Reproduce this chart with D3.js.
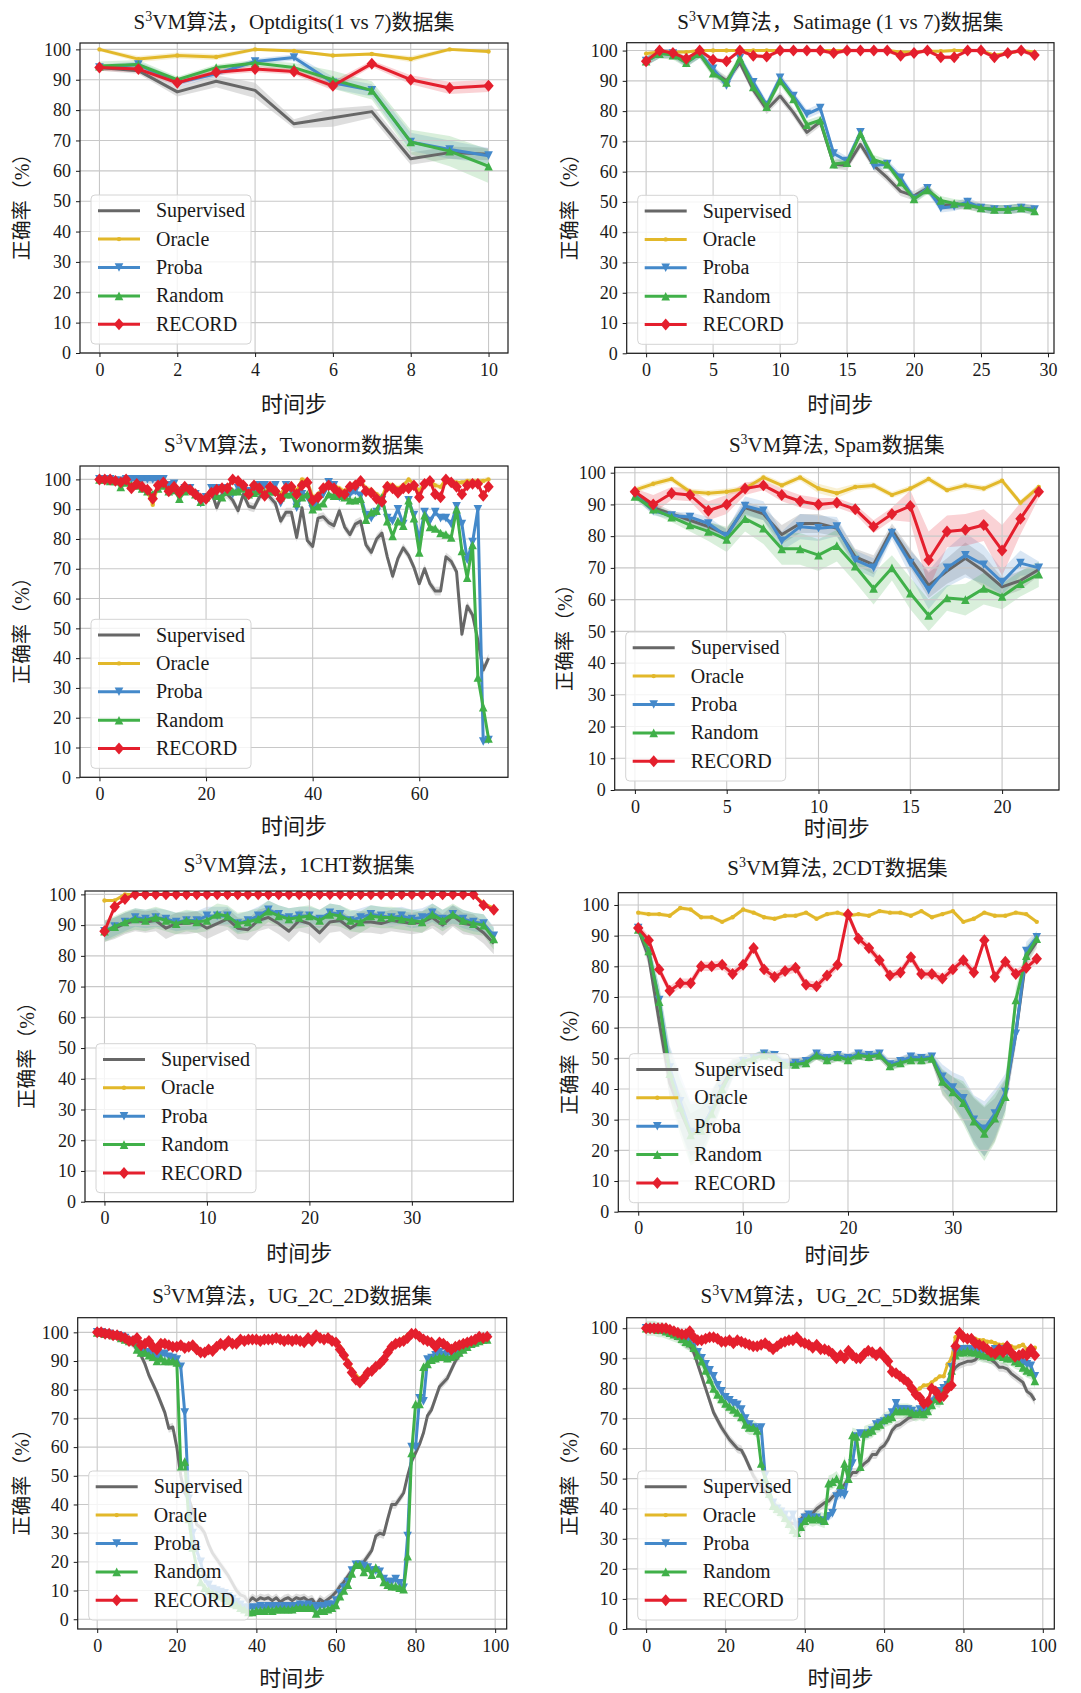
<!DOCTYPE html>
<html>
<head>
<meta charset="utf-8">
<title>S3VM accuracy</title>
<script src="https://cdn.jsdelivr.net/npm/d3@7"></script>
<style>
  body { margin: 0; background: #fff; }
  svg text { font-family: "Liberation Serif", "Times New Roman", "Noto Sans CJK SC", serif; fill: #1a1a1a; }
</style>
</head>
<body>
<script>
// ---- series / style ----
var seriesNames = ["Supervised", "Oracle", "Proba", "Random", "RECORD"]
var colors = ["#676767", "#e2b82a", "#4489ca", "#40b049", "#e41f2d"]
var markers = ["none", "dot", "down", "up", "diamond"]
var yTicks = [0, 10, 20, 30, 40, 50, 60, 70, 80, 90, 100]
var serif = "'Liberation Serif', 'Times New Roman', 'Noto Sans CJK SC', serif"

// ---- Optdigits (1 vs 7) ----
var optSup = [94, 93, 86, 89.5, 86.5, 75.5, 77.5, 79.5, 64, 66, 65.5]
var optOra = [100, 96.8, 98, 97.5, 100, 99.5, 98, 98.5, 96.8, 100, 99.3]
var optPro = [94, 95, 89, 92, 96, 97.3, 89, 86.5, 69.5, 67, 65]
var optRan = [94.5, 95, 90, 94, 95.5, 94, 90, 86.5, 69.5, 66.5, 61.5]
var optRec = [94, 93.5, 89, 92.5, 93.5, 92.7, 88, 95.3, 90, 87.3, 88]
var optSupBand = [1, 1, 1.5, 2, 2.5, 1.5, 3, 2, 2, 2, 2]
var optOraBand = [0.5, 1, 1, 1, 0.5, 0.5, 0.5, 0.5, 1, 0.5, 0.5]
var optProBand = [1, 1, 1.5, 1, 1, 1, 2, 2, 3, 3, 2.5]
var optRanBand = [1.5, 1.5, 1, 1, 1, 1.5, 3, 3, 4, 5, 5.5]
var optRecBand = [1, 1, 1, 1, 1, 1, 1.5, 1, 1.5, 2, 2]

// ---- Satimage (1 vs 7) ----
var satSup = [96.5, 99, 99, 96.5, 99, 93, 90, 96, 87, 80.5, 85, 79.5, 73, 76.5, 62.5, 62, 69, 62, 58, 53.5, 52, 54.5, 49, 49, 49, 48, 47.5, 47.5, 48, 47.5]
var satOra = [99, 99.5, 99.5, 99.5, 100, 100, 100, 100, 100, 100, 100, 100, 100, 100, 100, 100, 100, 100, 100, 99.5, 99.5, 99.8, 99.8, 100, 100, 100, 98.5, 99, 100, 99.5]
var satPro = [96.5, 99, 99, 96, 99, 94, 88.5, 97.5, 89.5, 82, 91, 85, 79, 81, 66, 63.5, 73, 62, 62.5, 58, 51, 54.5, 48, 48.5, 50, 48, 47.5, 47.5, 48, 47.5]
var satRan = [96.5, 99, 98.5, 96, 99, 92.5, 89.5, 97.5, 88, 81.5, 90, 84, 75.5, 77, 62.5, 63, 72.5, 64, 62.5, 56.5, 51, 54, 50.5, 49.5, 49, 48, 47.5, 47.5, 48, 47]
var satRec = [96.5, 100, 99.2, 97.3, 100, 97, 96.5, 100, 98.3, 98, 100, 100, 100, 100, 99.2, 100, 100, 100, 100, 98.3, 99.2, 100, 97.8, 97.8, 100, 100, 97.8, 99.2, 100, 98.5]

// ---- Twonorm ----
var twoSup = [100, 100, 100, 99.5, 99.5, 100, 98, 99, 100, 100,
  100, 100, 98, 96, 96.5, 96, 97, 96.5, 95.5, 94,
  92.5, 96, 90.5, 95, 95, 93, 89.5, 95, 91, 90.5,
  94, 96, 94, 92, 86, 89, 89, 80.5, 90.5, 79.5,
  77.5, 87, 87.5, 85.5, 84.5, 89.5, 84, 81.5, 85, 86,
  78, 75.5, 80, 82, 74, 67.5, 73.5, 77, 74.5, 70.5,
  65, 70, 65, 62.5, 62.5, 74, 72.5, 69, 48, 57.5,
  54.5, 46, 36, 40]
var twoOra = [100, 100, 100, 99.5, 99.5, 100, 98, 98, 97, 96,
  91.5, 98, 99, 95.5, 97.5, 96, 97, 96.5, 95.5, 93.5,
  93, 96, 97, 97, 97.5, 99.5, 99.5, 98, 96, 98.5,
  97.5, 95.5, 98, 97, 95, 98, 98, 96, 100, 99.5,
  94, 95, 97.5, 99, 98, 97, 96, 98, 98.5, 99.5,
  97, 96.5, 95, 94, 98.5, 98, 97, 98, 100, 98.5,
  96, 99, 99.5, 98, 97.5, 100, 99.5, 99, 99, 99.5,
  99.5, 99.5, 99.5, 100]
var twoPro = [100, 100, 100, 99.5, 99.5, 100, 100, 100, 100, 100,
  100, 100, 100, 98, 98.5, 96, 97, 97, 95, 92,
  94, 97, 97, 96, 97, 95, 97, 97, 96, 96,
  98, 98, 97, 98, 92, 98, 96, 90.5, 95, 94,
  90, 93, 95, 99, 98, 94, 94, 95, 96, 94.5,
  88, 87, 89, 93, 87, 86, 90, 85, 93, 88,
  80, 89, 86, 89, 87, 87, 85, 91, 85, 73,
  79, 90, 12, 12.5]
var twoRan = [100, 100, 99.5, 99.5, 97.5, 99, 98, 98, 97, 96,
  95, 97, 98, 96, 96.5, 93.5, 96, 96.5, 95, 92.5,
  94, 96, 94.5, 94, 96, 96, 96, 97, 95, 95.5,
  96, 95.5, 96, 96, 94, 95, 95, 92, 94, 95,
  90, 91, 92, 95, 94.5, 94.5, 94, 93, 93, 93.5,
  86.5, 89, 89.5, 94, 86, 81, 86, 84.5, 93, 87,
  75.5, 88, 84, 83.5, 82, 81.5, 80.5, 90, 76, 67,
  78, 33.5, 23.5, 13]
var twoRec = [100, 100, 100, 99.5, 99, 100, 97, 98.5, 97.5, 96.5,
  93.5, 98, 99, 96, 97.5, 95.5, 97.5, 96.5, 95, 93.5,
  93.5, 95.5, 96.5, 97, 97, 100, 99.5, 98, 95, 98,
  97, 94.5, 97.5, 96, 93.5, 97, 97.5, 95, 98, 99,
  93, 94, 97, 98, 97, 95.5, 95, 97.5, 98, 99.5,
  96, 95.5, 93.5, 92.5, 97.5, 97, 95.5, 97, 97, 98,
  94, 98.5, 99.5, 95, 94, 100, 99, 97.5, 95, 98,
  98.5, 98.5, 94.5, 97.5]

// ---- Spam ----
var spamSup = [93, 89, 87, 85, 83, 80.5, 89, 87, 80.5, 84, 84, 82.5, 73.5, 71, 82, 73, 64.5, 69, 73, 69, 64, 66, 69.5]
var spamOra = [94.5, 96.5, 98, 94, 93.5, 94, 95, 98.5, 96, 98.5, 95, 93.5, 95.5, 96, 93, 95, 98, 94.5, 96, 95, 97.5, 90.5, 95.5]
var spamPro = [93, 88, 86.5, 86, 84, 80, 89.5, 88, 78.5, 83, 82.5, 83, 72.5, 70, 81, 71.5, 63, 70, 74, 71, 65.5, 71.5, 70]
var spamRan = [92.5, 88.5, 86, 83.5, 81.5, 79, 85.5, 82.5, 76, 76, 74, 77, 70.5, 63.5, 70, 62, 55, 60.5, 60, 63.5, 61, 65, 68]
var spamRec = [94, 90, 93.5, 93, 88, 90, 95, 96, 93, 91, 90, 90.5, 88.5, 83, 87, 89.5, 72.5, 81.5, 82, 83.5, 75.5, 85.5, 94]
var spamSupBand = [1, 1.5, 1, 1.5, 1.5, 2, 2, 2, 3, 3, 3, 2.5, 2.5, 3, 2, 3, 4, 4, 5, 5, 3, 3, 2]
var spamOraBand = [1, 1, 1, 1, 1, 1, 1, 1, 1, 1, 1.5, 1.5, 1, 1, 1, 1, 1, 1, 1, 1, 1, 1, 1]
var spamProBand = [1, 1.5, 1, 1.5, 2, 2, 3, 3, 3, 4, 4, 3, 3, 3, 2, 4, 6, 6, 7, 6, 4, 4, 2]
var spamRanBand = [1, 1.5, 1.5, 2, 3, 4, 4, 5, 5, 5, 5, 5, 5, 5, 4, 5, 5, 4, 5, 5, 4, 4, 4]
var spamRecBand = [1, 3, 2, 2, 3, 3, 2, 1.5, 2, 2, 2, 1.5, 1.5, 2, 2, 5, 9, 5, 5, 5, 8, 5, 2]

// ---- 1CHT ----
var chtSup = [88, 89, 90.5, 91.5, 91, 91.5, 89, 90.5, 90.5, 91,
  89, 90.5, 92, 89, 88.5, 91.5, 92.5, 90.5, 88, 91.5,
  90.5, 87.5, 91, 91.5, 89, 91, 91, 90.5, 91.5, 91,
  90.5, 91, 92.5, 90, 93, 90.5, 90, 87.5, 84]
var chtOra = [98, 98, 100, 100, 100, 100, 100, 100, 100, 100,
  100, 100, 100, 100, 100, 100, 100, 100, 100, 100,
  100, 100, 100, 100, 100, 100, 100, 100, 100, 100,
  100, 100, 100, 100, 100, 100, 100, 97, 95.5]
var chtPro = [88, 89.5, 91, 92.5, 92, 92.5, 92, 91, 91.5, 91.5,
  93, 93, 93, 90.5, 91.5, 93, 95, 93.5, 92.5, 93,
  93, 92, 94, 93.5, 91.5, 92.5, 93.5, 93, 92.5, 93,
  92, 92.5, 94, 92, 93.5, 92, 91, 90.5, 86.5]
var chtRan = [88, 89.5, 91, 92, 91.5, 92.5, 91.5, 90.5, 91.5, 91,
  91.5, 93.5, 93, 90.5, 91, 92, 94.5, 93, 92, 92.5,
  93, 91.5, 93.5, 93, 91.5, 91, 93, 92.5, 92.5, 92,
  91.5, 91, 93.5, 91.5, 93.5, 91.5, 90.5, 90, 85.5]
var chtRec = [88, 96, 98.5, 100, 100, 100, 100, 100, 100, 100,
  100, 100, 100, 100, 100, 100, 100, 100, 100, 100,
  100, 100, 100, 100, 100, 100, 100, 100, 100, 100,
  100, 100, 100, 100, 100, 100, 100, 96.5, 95]

// ---- 2CDT ----
var cdtSup = [92, 83, 62, 42, 33, 25, 27, 33, 41, 47,
  49, 50, 51, 50, 48, 48.5, 49, 51, 49.5, 50.5,
  50, 51, 50.5, 51, 47.5, 49, 50, 49.5, 50, 42,
  39, 35.5, 30, 26, 30, 38, 58, 83, 88]
var cdtOra = [97.5, 97, 97, 96.5, 99, 98.5, 96, 96, 94.5, 96,
  98.5, 97.5, 96, 95.5, 96.5, 96.5, 97.5, 95.5, 97, 97.5,
  96.5, 97, 96.5, 98, 97.5, 97.5, 96.5, 98, 96, 97,
  98, 94.5, 95.5, 97.5, 96.5, 96.5, 97.5, 97, 94.5]
var cdtPro = [92.5, 85, 69, 47, 36, 26, 27, 33, 40, 46,
  49, 50, 51.5, 51, 48.5, 48.5, 49, 51.5, 50, 51,
  50, 51.5, 51, 51.5, 48, 49, 50.5, 50, 50.5, 44,
  40.5, 37, 30, 27, 32, 39, 58, 85, 89.5]
var cdtRan = [92, 85, 68.5, 45, 34, 25, 26.5, 32, 40, 46.5,
  49, 50, 51, 50.5, 48, 48, 48.5, 51, 49.5, 50.5,
  49.5, 51, 50.5, 51, 47.5, 48.5, 49.5, 49.5, 50, 42.5,
  39, 35.5, 29.5, 25.5, 30.5, 37.5, 69, 83.5, 89]
var cdtRec = [92.5, 88.5, 79, 72, 74.5, 74.5, 80, 80, 80.5, 77.5,
  80.5, 86, 79, 76.5, 78.5, 79.5, 74, 73.5, 77, 80.5,
  97, 89, 86, 82, 77, 78, 83, 77.5, 77.5, 76,
  79, 82, 78, 88.5, 76.5, 81.5, 77.5, 79.5, 82.5]
var cdtSupBand = [1, 3, 4, 5, 6, 7, 7, 6, 5, 3, 2, 1.5, 1.5, 1.5, 1.5, 1.5, 1.5, 1.5, 1.5, 1.5,
  1.5, 1.5, 1.5, 1.5, 1.5, 1.5, 1.5, 1.5, 1.5, 4, 5, 6, 7, 8, 7, 5, 4, 3, 2]
var cdtProBand = [1, 3, 5, 7, 9, 10, 9, 7, 5, 3, 2, 1.5, 1.5, 1.5, 1.5, 1.5, 1.5, 1.5, 1.5, 1.5,
  1.5, 1.5, 1.5, 1.5, 1.5, 1.5, 1.5, 1.5, 1.5, 4, 5, 7, 8, 9, 8, 6, 4, 3, 2]
var cdtRanBand = [1, 3, 5, 8, 9, 10, 9, 7, 5, 3, 2, 1.5, 1.5, 1.5, 1.5, 1.5, 1.5, 1.5, 1.5, 1.5,
  1.5, 1.5, 1.5, 1.5, 1.5, 1.5, 1.5, 1.5, 1.5, 4, 5, 7, 8, 9, 8, 6, 4, 3, 2]

// ---- UG_2C_2D ----
var ug2Sup = [100, 100, 99.5, 99.5, 99, 99, 98.5, 98, 97, 96,
  94, 92, 89, 85, 82, 79, 75.5, 72, 66.5, 67,
  60, 50, 44, 42, 38, 33, 32, 30, 26, 23,
  21, 19, 17, 15, 12.5, 10, 8.5, 8, 6, 7.5,
  6.5, 7.5, 7, 7.5, 6.5, 7.5, 6, 7, 7.5, 6.5,
  7.5, 7, 7.5, 6.5, 7, 5, 7, 6, 7, 8,
  9.5, 11.5, 13, 15, 17, 19, 19, 20, 22, 24,
  29, 30, 29.5, 35, 40, 40, 42, 44, 50, 55,
  58, 61, 65, 71, 73, 77, 81, 82.5, 84, 87,
  90, 92, 94, 95, 96, 96.5, 97, 97.5, 98]
var ug2Ora = [100, 100, 99.5, 99.5, 99, 99, 98.5, 98, 97, 97,
  97.5, 96, 96, 97, 95.5, 95, 97, 96.5, 96, 95.5,
  95, 95.5, 94.5, 95, 95.5, 94, 93.5, 93.5, 94, 94,
  95, 96, 96, 97, 96.5, 96.5, 97.5, 97.5, 97.5, 98,
  97.5, 97.5, 97.5, 98, 97.5, 98, 97.5, 97.5, 97.5, 97.5,
  97.5, 97.5, 97, 98, 97.5, 99, 98, 98, 98, 97.5,
  97, 95, 93, 90, 87, 85, 84, 85, 86.5, 87,
  88.5, 89.5, 91, 93, 95, 96.5, 97, 98, 99, 100,
  100, 99, 98, 97.5, 97, 96, 96.5, 96, 95.5, 94.5,
  95, 95.5, 96, 96.5, 97, 97.5, 98, 98, 98.5]
var ug2Pro = [100, 100, 99.5, 99.5, 99, 99, 98.5, 98, 97, 97,
  95, 94, 93, 93, 92, 91, 92, 92.5, 91.5, 91,
  90.5, 88, 72, 42, 30, 24, 20, 14, 12, 10.5,
  10, 9.5, 9, 8, 7, 6, 5, 4, 4, 4,
  4, 4.5, 4, 4.5, 4.5, 4.5, 4, 4.5, 4.5, 4.5,
  4.5, 5, 4.5, 5, 4.5, 4, 4.5, 4.5, 5, 5,
  6.5, 9, 11, 13, 17, 19, 19, 18.5, 18, 17,
  17, 16.5, 14, 13, 13, 14, 12.5, 11, 29, 60,
  60, 77, 76, 90.5, 91, 92, 93, 92, 92.5, 92.5,
  93, 93, 94, 95, 96, 96.5, 97, 97.5, 98]
var ug2Ran = [100, 100, 99.5, 99.5, 99, 99, 98, 97.5, 97, 97,
  94, 93, 93, 92, 91.5, 90, 91, 90, 90, 90,
  89.5, 53, 55, 35, 25, 18, 13, 11, 10, 9,
  8.5, 8, 7.5, 6.5, 5.5, 5, 4, 3.5, 2.5, 2.5,
  3, 3, 3, 3.5, 3, 3.5, 3.5, 3.5, 3.5, 3.5,
  4, 4, 4, 4, 4, 2, 3, 3, 3.5, 4,
  5, 8, 10, 12, 16, 19, 19, 16.5, 18, 15.5,
  18, 16, 13, 12, 11.5, 11.5, 11, 10.5, 22, 58,
  75, 75, 88, 89, 90.5, 91, 91.5, 91.5, 91, 91.5,
  92, 93, 94, 95, 96, 96.5, 97, 97.5, 97.5]
var ug2Rec = [100, 100, 99.5, 99.5, 99, 99, 98.5, 98, 97, 97,
  98, 95.5, 96, 97, 95, 94, 96, 96, 95.5, 95,
  95, 95.5, 94.5, 95, 95.5, 94, 93, 93, 94, 93.5,
  95, 96, 95.5, 97, 96, 96, 97.5, 97, 97.5, 97.5,
  97.5, 97, 97.5, 97.5, 97.5, 98, 97.5, 97, 97.5, 97,
  97.5, 97, 96.5, 98, 97, 99, 98, 97.5, 98, 97,
  96.5, 94, 92, 89, 86, 83.5, 82.5, 84, 86, 86.5,
  88, 89, 90.5, 93, 95, 96, 96.5, 97, 98, 99.5,
  99.5, 98.5, 97.5, 97, 96.5, 95, 96.5, 96, 95, 94,
  95, 95.5, 96, 96.5, 97, 97.5, 98.5, 98, 98.5]

// ---- UG_2C_5D ----
var ug5Sup = [100, 100, 100, 99.5, 99.5, 99, 98.5, 98, 97, 96,
  95, 94, 92, 88, 84, 80, 76, 72, 69.5, 67,
  65, 63, 61.5, 60, 59.5, 57, 54, 51, 49, 47.5,
  46, 44, 42, 40, 38.5, 37, 35.5, 35, 35, 36.5,
  38, 37.5, 38.5, 40, 41, 42, 42.5, 44, 45, 46.5,
  48, 50, 52, 52, 53.5, 55, 56, 58, 58, 60,
  61, 63, 66, 67.5, 68, 69, 70, 70.5, 71, 71.5,
  72.5, 74, 76, 77, 79, 80, 82, 85, 87, 88,
  88.5, 89, 89, 89.5, 91, 90.5, 90, 89.5, 88.5, 87,
  87, 86.5, 85, 84, 83, 82, 79, 78, 76]
var ug5Ora = [100, 100, 100, 100, 100, 100, 99.5, 99, 98.5, 98,
  98, 98.5, 97, 96, 96, 96.5, 97, 97, 96.5, 95.5,
  95.5, 96, 95, 96, 95.5, 95, 94.5, 94, 94, 94.5,
  95, 94, 93, 94, 95, 95.5, 96, 96, 97, 95.5,
  95, 94.5, 93.5, 94.5, 93, 93, 92.5, 91.5, 90.5, 91,
  90.5, 92.5, 91.5, 90.5, 90.5, 91.5, 92.5, 92, 91.5, 92,
  90.5, 89, 86, 85, 84, 83, 82, 80.5, 79, 80,
  81, 81, 82, 83, 84, 84, 88, 90, 97, 98,
  97.5, 97, 97, 96.5, 96, 96, 95.5, 95.5, 95, 94.5,
  94.5, 94, 94, 93.5, 94, 94.5, 93, 93.5, 93.5]
var ug5Pro = [100, 100, 100, 99.5, 99.5, 99, 98.5, 98, 98, 97,
  96, 95.5, 94, 92, 90, 88, 86, 84, 81, 79,
  77, 76, 75, 74.5, 73, 70, 68, 67, 66.5, 67,
  51, 46, 42, 40, 39, 38, 36, 38, 34, 35.5,
  37, 38, 37, 37, 36, 36, 37.5, 38.5, 44, 45,
  44.5, 52, 55, 64, 65, 64.5, 65, 66, 68, 68.5,
  69, 70, 72, 75, 73, 73, 73, 72.5, 71.5, 73,
  73, 74, 75.5, 78, 79, 80, 81, 87, 92, 92.5,
  93, 93, 93, 93, 92, 92.5, 92, 91, 93, 93,
  92, 92, 91, 90, 89, 88.5, 88, 87.5, 84]
var ug5Ran = [100, 100, 100, 99.5, 99.5, 99, 98.5, 98, 97.5, 96.5,
  95.5, 95, 93.5, 91, 89, 86, 83, 80, 78, 76.5,
  75, 74, 73, 72, 70.5, 68, 67, 67, 66, 55,
  50, 45, 41, 40, 39, 37, 35, 33, 32, 34,
  36, 37, 36.5, 37, 36.5, 36, 48.5, 49, 50, 48,
  55, 50, 64.5, 64, 54, 65, 65.5, 66, 67.5, 68,
  69.5, 70, 70.5, 72.5, 72.5, 72.5, 72.5, 72, 71.5, 72,
  71.5, 72.5, 74.5, 76.5, 76, 79, 81, 86, 91, 92,
  92, 92.5, 92, 92, 91.5, 91, 91, 90.5, 91, 91,
  90.5, 90, 90, 89, 88.5, 87, 86, 85.5, 82.5]
var ug5Rec = [100, 100, 100, 100, 100, 100, 99.5, 99, 98.5, 98,
  98, 99, 97, 96, 96, 96.5, 97, 97, 96.5, 95.5,
  95.5, 96, 95, 96, 95.5, 95, 94.5, 94, 94, 94.5,
  95, 94, 93, 94, 95, 95.5, 96, 96, 97, 95.5,
  95, 94.5, 93.5, 94.5, 93, 93, 92.5, 91.5, 90, 91,
  90, 92.5, 91, 90, 90, 91.5, 92.5, 92, 91, 92,
  90.5, 89, 85.5, 85, 84, 83, 82, 80, 78, 77,
  75, 75.5, 80, 79, 77, 77.5, 80, 81, 94, 98.5,
  97, 96.5, 96.5, 95, 94.5, 94, 93, 92, 91.5, 93,
  92, 94, 92, 90.5, 91, 91.5, 91, 93, 91]

// ---- panels (layout: axes box l,t,r,b in px) ----
var panels = [
  { title: "VM算法，Optdigits(1 vs 7)数据集", series: [optSup, optOra, optPro, optRan, optRec],
    band: [optSupBand, optOraBand, optProBand, optRanBand, optRecBand],
    xticks: [0, 2, 4, 6, 8, 10], ydom: [0, 102.1], box: [80, 43, 508, 353], tOff: 21, xOff: 51, yOff: 58 },
  { title: "VM算法，Satimage (1 vs 7)数据集", series: [satSup, satOra, satPro, satRan, satRec],
    band: [1.5, 0.5, 1.5, 1.5, 0.7],
    xticks: [0, 5, 10, 15, 20, 25, 30], ydom: [0, 102.6], box: [626.7, 42.7, 1054, 353.3], tOff: 21, xOff: 51, yOff: 57 },
  { title: "VM算法，Twonorm数据集", series: [twoSup, twoOra, twoPro, twoRan, twoRec],
    band: [1.5, 1, 1, 1, 1],
    xticks: [0, 20, 40, 60], ydom: [0, 104.5], box: [80, 466, 508, 777.3], tOff: 21, xOff: 49, yOff: 58 },
  { title: "VM算法, Spam数据集", series: [spamSup, spamOra, spamPro, spamRan, spamRec],
    band: [spamSupBand, spamOraBand, spamProBand, spamRanBand, spamRecBand],
    xticks: [0, 5, 10, 15, 20], ydom: [0, 101.7], box: [614.7, 467.3, 1059, 790], tOff: 22, xOff: 38, yOff: 50 },
  { title: "VM算法，1CHT数据集", series: [chtSup, chtOra, chtPro, chtRan, chtRec],
    band: [3.5, 0.5, 3, 3.5, 0.5],
    xticks: [0, 10, 20, 30], ydom: [0, 101.1], box: [85, 891, 513.3, 1201.7], tOff: 26, xOff: 51, yOff: 58 },
  { title: "VM算法, 2CDT数据集", series: [cdtSup, cdtOra, cdtPro, cdtRan, cdtRec],
    band: [cdtSupBand, 0.7, cdtProBand, cdtRanBand, 1.5],
    xticks: [0, 10, 20, 30], ydom: [0, 104.0], box: [618.3, 892.7, 1056.7, 1211.7], tOff: 25, xOff: 43, yOff: 48 },
  { title: "VM算法，UG_2C_2D数据集", series: [ug2Sup, ug2Ora, ug2Pro, ug2Ran, ug2Rec],
    band: [1.5, 0.7, 1.5, 1.5, 0.7],
    xticks: [0, 20, 40, 60, 80, 100], ydom: [-3.4, 105.1], box: [77.7, 1317.7, 506.7, 1629], tOff: 22, xOff: 49, yOff: 56 },
  { title: "VM算法，UG_2C_5D数据集", series: [ug5Sup, ug5Ora, ug5Pro, ug5Ran, ug5Rec],
    band: [1.5, 0.7, 1.5, 2.5, 0.7],
    xticks: [0, 20, 40, 60, 80, 100], ydom: [0, 103.5], box: [626.7, 1317.7, 1054.3, 1629], tOff: 22, xOff: 49, yOff: 57 }
]

var svg = d3.select("body").append("svg")
  .attr("width", 1081)
  .attr("height", 1693)

svg.append("rect").attr("width", 1081).attr("height", 1693).attr("fill", "#fff")

function markerPath(kind, r) {
  if (kind == "diamond") return "M0," + (-r * 1.15) + "L" + r + ",0L0," + (r * 1.15) + "L" + (-r) + ",0Z"
  if (kind == "up") return "M0," + (-r) + "L" + r + "," + r + "L" + (-r) + "," + r + "Z"
  if (kind == "down") return "M0," + r + "L" + r + "," + (-r) + "L" + (-r) + "," + (-r) + "Z"
  return null
}

function drawMarker(g, kind, color, cx, cy) {
  if (kind == "none") return
  if (kind == "dot") {
    g.append("circle").attr("cx", cx).attr("cy", cy).attr("r", 2.2).attr("fill", color)
    return
  }
  var r = kind == "diamond" ? 5.2 : 4.3
  g.append("path")
    .attr("d", markerPath(kind, r))
    .attr("transform", "translate(" + cx + "," + cy + ")")
    .attr("fill", color)
}

function bandAt(b, i) { return Array.isArray(b) ? b[i] : b }

panels.forEach(function(p, pi) {
  var L = p.box[0], T = p.box[1], R = p.box[2], B = p.box[3]
  var n = p.series[0].length
  var pad = (n - 1) * 0.05
  var x = d3.scaleLinear().domain([-pad, n - 1 + pad]).range([L, R])
  var y = d3.scaleLinear().domain(p.ydom).range([B, T])

  var g = svg.append("g")
  var clipId = "clip" + pi
  g.append("clipPath").attr("id", clipId)
    .append("rect").attr("x", L).attr("y", T).attr("width", R - L).attr("height", B - T)

  // bands
  var bands = g.append("g").attr("clip-path", "url(#" + clipId + ")")
  p.series.forEach(function(s, si) {
    var area = d3.area()
      .x(function(d, i) { return x(i) })
      .y0(function(d, i) { return y(d - bandAt(p.band[si], i)) })
      .y1(function(d, i) { return y(d + bandAt(p.band[si], i)) })
    bands.append("path").datum(s)
      .attr("d", area)
      .attr("fill", colors[si])
      .attr("fill-opacity", si == 0 ? 0.22 : 0.2)
  })

  // grid
  var grid = g.append("g").attr("stroke", "#c8c8c8").attr("stroke-width", 1.1)
  p.xticks.forEach(function(t) {
    grid.append("line").attr("x1", x(t)).attr("x2", x(t)).attr("y1", T).attr("y2", B)
  })
  yTicks.forEach(function(t) {
    grid.append("line").attr("x1", L).attr("x2", R).attr("y1", y(t)).attr("y2", y(t))
  })

  // lines + markers
  var lines = g.append("g").attr("clip-path", "url(#" + clipId + ")")
  p.series.forEach(function(s, si) {
    var line = d3.line().x(function(d, i) { return x(i) }).y(function(d) { return y(d) })
    lines.append("path").datum(s)
      .attr("d", line)
      .attr("fill", "none")
      .attr("stroke", colors[si])
      .attr("stroke-width", 3)
      .attr("stroke-linejoin", "round")
    s.forEach(function(d, i) { drawMarker(lines, markers[si], colors[si], x(i), y(d)) })
  })

  // axes
  var xAxis = g.append("g").attr("transform", "translate(0," + B + ")")
    .call(d3.axisBottom(x).tickValues(p.xticks).tickSize(4).tickPadding(6))
  var yAxis = g.append("g").attr("transform", "translate(" + L + ",0)")
    .call(d3.axisLeft(y).tickValues(yTicks).tickSize(4).tickPadding(5))
  ;[xAxis, yAxis].forEach(function(a) {
    a.attr("font-family", serif).attr("font-size", 18)
    a.select(".domain").remove()
    a.selectAll("text").attr("font-size", 18).attr("font-family", serif).attr("fill", "#1a1a1a")
    a.selectAll("line").attr("stroke", "#1a1a1a")
  })

  g.append("rect").attr("x", L).attr("y", T).attr("width", R - L).attr("height", B - T)
    .attr("fill", "none").attr("stroke", "#1a1a1a").attr("stroke-width", 1.2)

  // title
  var title = g.append("text")
    .attr("x", (L + R) / 2).attr("y", T - p.tOff + 7)
    .attr("text-anchor", "middle").attr("font-size", 21)
  title.append("tspan").text("S")
  title.append("tspan").attr("dy", -8).attr("font-size", 14).text("3")
  title.append("tspan").attr("dy", 8).text(p.title)

  // axis labels
  g.append("text")
    .attr("x", (L + R) / 2).attr("y", B + p.xOff + 8)
    .attr("text-anchor", "middle").attr("font-size", 22)
    .text("时间步")
  g.append("text")
    .attr("transform", "translate(" + (L - p.yOff + 7) + "," + ((T + B) / 2 + 4) + ") rotate(-90)")
    .attr("text-anchor", "middle").attr("font-size", 20)
    .text("正确率（%）")

  // legend, lower left
  var lw = 160, lh = 149
  var lx = L + 11, ly = B - 9 - lh
  var leg = g.append("g")
  leg.append("rect").attr("x", lx).attr("y", ly).attr("width", lw).attr("height", lh)
    .attr("rx", 4).attr("fill", "#fff").attr("fill-opacity", 0.8)
    .attr("stroke", "#d4d4d4").attr("stroke-width", 1)
  seriesNames.forEach(function(name, si) {
    var cy = ly + 15.7 + si * 28.4
    leg.append("line").attr("x1", lx + 7).attr("x2", lx + 49).attr("y1", cy).attr("y2", cy)
      .attr("stroke", colors[si]).attr("stroke-width", 3)
    drawMarker(leg, markers[si], colors[si], lx + 28, cy)
    leg.append("text").attr("x", lx + 65).attr("y", cy + 6.5)
      .attr("font-size", 20).text(name)
  })
})
</script>
</body>
</html>
